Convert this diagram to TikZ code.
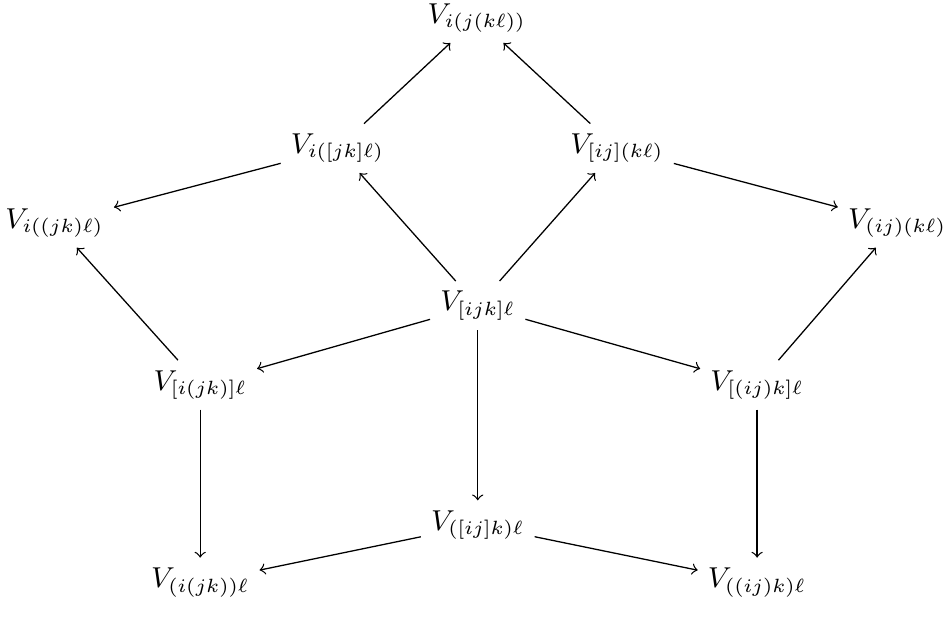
\documentclass[tikz,border=0pt]{standalone}
\begin{document}
\begin{tikzpicture}[>=to]
\useasboundingbox (0,0) rectangle (10.385,6.78);
\tikzset{vert/.style={inner sep=3pt, font=\fontsize{8.8pt}{10pt}\selectfont}}
\node[vert] (top) at (5.24,6.58) {$V_{i(j(k\ell))}$};
\node[vert] (ijkl1) at (3.71,5.15) {$V_{i([jk]\ell)}$};
\node[vert] (ijkl2) at (6.78,5.15) {$V_{[ij](k\ell)}$};
\node[vert] (ijkl3) at (0.60,4.33) {$V_{i((jk)\ell)}$};
\node[vert] (ijkl4) at (9.86,4.33) {$V_{(ij)(k\ell)}$};
\node[vert] (mid) at (5.25,3.42) {$V_{[ijk]\ell}$};
\node[vert] (ijkl5) at (2.20,2.55) {$V_{[i(jk)]\ell}$};
\node[vert] (ijkl6) at (8.32,2.55) {$V_{[(ij)k]\ell}$};
\node[vert] (low) at (5.25,1.01) {$V_{([ij]k)\ell}$};
\node[vert] (ijkl7) at (2.20,0.38) {$V_{(i(jk))\ell}$};
\node[vert] (ijkl8) at (8.32,0.38) {$V_{((ij)k)\ell}$};
\foreach \a/\b in {ijkl1/top, ijkl2/top, ijkl1/ijkl3, ijkl2/ijkl4, mid/ijkl1, mid/ijkl2, mid/ijkl5, mid/ijkl6, mid/low, ijkl5/ijkl3, ijkl6/ijkl4, ijkl5/ijkl7, ijkl6/ijkl8, low/ijkl7, low/ijkl8}
  \draw[->] (\a) -- (\b);
\end{tikzpicture}
\end{document}
